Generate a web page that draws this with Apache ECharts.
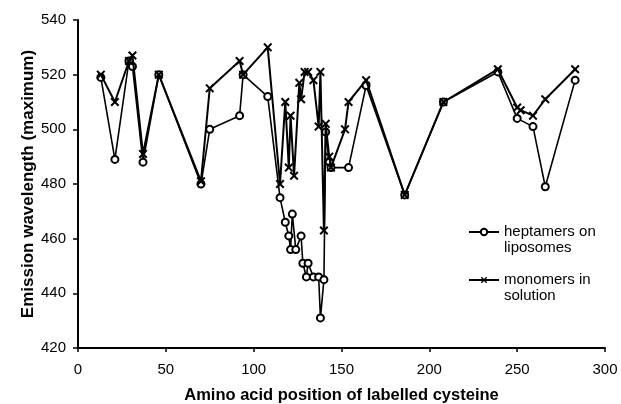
<!DOCTYPE html>
<html lang="en">
  <head>
    <meta charset="UTF-8" />
    <title>Emission wavelength vs cysteine position</title>
    <style>
      html, body { margin: 0; padding: 0; background: #fff; }
      #main { width: 621px; height: 404px; }
    </style>
  </head>
  <body>
    <div id="main"></div>
    <script src="https://cdn.jsdelivr.net/npm/echarts@6/dist/echarts.min.js"></script>
    <script>
      // amino acid position of the labelled cysteine / emission maximum (nm)
      var heptamerPos = [13, 21, 29, 31, 37, 46, 70, 75, 92, 94, 108, 115, 118, 120, 121, 122, 124, 127, 128, 130, 131, 134, 137, 138, 140, 141, 143, 144, 154, 164, 186, 208, 239, 250, 259, 266, 283];
      var heptamerWave = [519, 489, 525, 523, 488, 520, 480, 500, 505, 520, 512, 475, 466, 461, 456, 469, 456, 461, 451, 446, 451, 446, 446, 431, 445, 499, 488, 486, 486, 516, 476, 510, 521, 504, 501, 479, 518];

      var monomerPos = [13, 21, 29, 31, 37, 46, 70, 75, 92, 94, 108, 115, 118, 120, 121, 123, 126, 127, 129, 131, 134, 137, 138, 140, 141, 143, 144, 152, 154, 164, 186, 208, 239, 250, 252, 259, 266, 283];
      var monomerWave = [520, 510, 525, 527, 491, 520, 481, 515, 525, 520, 530, 480, 510, 486, 505, 483, 517, 511, 521, 521, 518, 501, 521, 463, 502, 490, 486, 500, 510, 518, 476, 510, 522, 508, 507, 505, 511, 522];

      var seriesNames = ["heptamers on\nliposomes", "monomers in\nsolution"];

      function pairs(xs, ys) {
        var out = [];
        for (var i = 0; i < xs.length; i++) out.push([xs[i], ys[i]]);
        return out;
      }

      // bold "x" marker
      var crossIcon = "path://M0,1.6L1.6,0L5,3.4L8.4,0L10,1.6L6.6,5L10,8.4L8.4,10L5,6.6L1.6,10L0,8.4L3.4,5Z";
      var font = "Liberation Sans, Arial, sans-serif";

      var myChart = echarts.init(document.getElementById("main"));

      var option = {
        backgroundColor: "#fff",
        animation: false,
        textStyle: { fontFamily: font, color: "#000" },
        grid: { left: 78, right: 16, top: 20, bottom: 56, outerBoundsMode: "none", containLabel: false },
        legend: {
          orient: "vertical",
          left: 463,
          top: 203,
          itemWidth: 30,
          itemHeight: 8,
          itemGap: 0,
          // empty first line so the icon sits beside the first text line
          formatter: function (name) {
            return "{s| }\n" + name;
          },
          textStyle: {
            fontFamily: font,
            fontSize: 15,
            color: "#000",
            lineHeight: 16,
            rich: { s: { fontSize: 15, lineHeight: 16 } },
          },
          data: seriesNames,
        },
        xAxis: {
          type: "value",
          min: 0,
          max: 300,
          interval: 50,
          name: "Amino acid position of labelled cysteine",
          nameLocation: "middle",
          nameGap: 39,
          nameMoveOverlap: false,
          nameTextStyle: { fontFamily: font, fontSize: 16.5, fontWeight: "bold", color: "#000" },
          axisLine: { onZero: false, lineStyle: { color: "#000", width: 2 } },
          axisTick: { show: true, length: 4, lineStyle: { color: "#000", width: 1.5 } },
          axisLabel: { fontFamily: font, fontSize: 15, color: "#000", margin: 14 },
          splitLine: { show: false },
        },
        yAxis: {
          type: "value",
          min: 420,
          max: 540,
          interval: 20,
          name: "Emission wavelength (maximum)",
          nameLocation: "middle",
          nameGap: 41,
          nameMoveOverlap: false,
          nameTextStyle: { fontFamily: font, fontSize: 17, fontWeight: "bold", color: "#000" },
          axisLine: { show: true, lineStyle: { color: "#000", width: 2 } },
          axisTick: { show: true, length: 5, lineStyle: { color: "#000", width: 1.5 } },
          axisLabel: { fontFamily: font, fontSize: 15, color: "#000", margin: 12 },
          splitLine: { show: false },
        },
        series: [
          {
            name: seriesNames[0],
            type: "line",
            data: pairs(heptamerPos, heptamerWave),
            symbol: "emptyCircle",
            symbolSize: 7,
            showAllSymbol: true,
            lineStyle: { color: "#000", width: 1.6 },
            itemStyle: { color: "#000", borderWidth: 1.5 },
            z: 2,
          },
          {
            name: seriesNames[1],
            type: "line",
            data: pairs(monomerPos, monomerWave),
            symbol: crossIcon,
            symbolSize: 9,
            showAllSymbol: true,
            lineStyle: { color: "#000", width: 2 },
            itemStyle: { color: "#000" },
            z: 3,
          },
        ],
      };

      myChart.setOption(option);
    </script>
  </body>
</html>
